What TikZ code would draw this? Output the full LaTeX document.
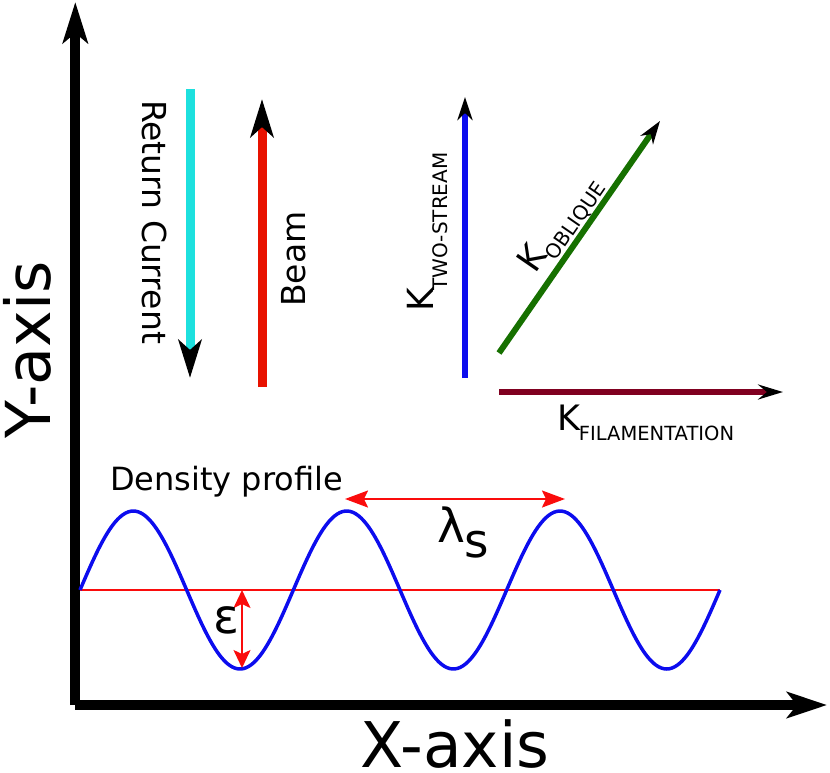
\documentclass[tikz,border=0pt]{standalone}
\usepackage{fontspec}
\setmainfont{DejaVu Sans}
\usetikzlibrary{arrows.meta}
\definecolor{retcyan}{RGB}{29,224,222}
\definecolor{beamred}{RGB}{232,18,0}
\definecolor{wblue}{RGB}{12,12,238}
\definecolor{kgreen}{RGB}{22,112,0}
\definecolor{kmaroon}{RGB}{128,0,32}
\definecolor{annred}{RGB}{250,12,12}
\newcommand{\fsz}[1]{\fontsize{#1}{#1}\selectfont}
\begin{document}
\begin{tikzpicture}[x=1pt,y=-1pt,
  lbl/.style={inner sep=0pt, outer sep=0pt, text=black},
  dimarrow/.style={annred, line width=2pt, {Stealth[length=#1pt,width=17pt,inset=4pt]}-{Stealth[length=#1pt,width=17pt,inset=4pt]}}
]
\useasboundingbox (0,0) rectangle (830,772);

% axes
\coordinate (ybot) at (75.3,705);
\coordinate (ytop) at (75.3,2);
\coordinate (xl) at (75,705);
\coordinate (xr) at (827,705);
\draw[line width=9.8pt, -{Stealth[length=41pt,width=25pt,inset=10pt]}] (ybot) -- (ytop);
\draw[line width=10pt, -{Stealth[length=40pt,width=26pt,inset=10pt]}] (xl) -- (xr);
\node[lbl, rotate=90, anchor=base] (ylabel) at (50,350) {\fsz{62}Y-axis};
\node[lbl, anchor=base] (xlabel) at (455,767) {\fsz{63}X-axis};

% return current and beam
\coordinate (rc1) at (190,89);
\coordinate (rc2) at (190,378);
\draw[retcyan, line width=9pt, -{Stealth[length=38pt,width=23pt,inset=10pt,black]}] (rc1) -- (rc2);
\node[lbl, rotate=-90, anchor=base] (rclabel) at (142,222) {\fsz{33}Return Current};
\coordinate (bm1) at (262,387);
\coordinate (bm2) at (262,99);
\draw[beamred, line width=9pt, -{Stealth[length=38pt,width=23pt,inset=10pt,black]}] (bm1) -- (bm2);
\node[lbl, rotate=90, anchor=base] (bmlabel) at (305,259) {\fsz{33}Beam};

% wave vectors
\coordinate (ts1) at (465,378);
\coordinate (ts2) at (465,97);
\draw[wblue, line width=6pt, -{Stealth[length=23pt,width=15pt,inset=7pt,black]}] (ts1) -- (ts2);
\node[lbl, rotate=90, anchor=base west] (tslabel) at (433,311) {\fsz{36}K\kern-3pt\raisebox{-14pt}{\fsz{20}TWO-STREAM}};

\coordinate (ob1) at (499,353);
\coordinate (ob2) at (660,121);
\draw[kgreen, line width=6pt, -{Stealth[length=23pt,width=15pt,inset=7pt,black]}] (ob1) -- (ob2);
\node[lbl, rotate=55.4, anchor=base west] (oblabel) at (535,274) {\fsz{35}K\kern-1pt\raisebox{-10pt}{\fsz{20}OBLIQUE}};

\coordinate (fi1) at (499,392);
\coordinate (fi2) at (783,392);
\draw[kmaroon, line width=5.5pt, -{Stealth[length=25pt,width=15pt,inset=9pt,black]}] (fi1) -- (fi2);
\node[lbl, anchor=base west] (filabel) at (557,430) {\fsz{35}K\kern-1pt\raisebox{-10pt}{\fsz{19.5}FILAMENTATION}};

% density profile
\node[lbl, anchor=base west] (dplabel) at (110,490) {\fsz{32}Density profile};
\coordinate (m1) at (80,590);
\coordinate (m2) at (720,590);
\draw[annred, line width=2pt] (m1) -- (m2);
\draw[wblue, line width=3.5pt, line join=round] plot[domain=80:720, samples=240, smooth] (\x, {590-79*sin(1.6875*(\x-80))});

% epsilon
\coordinate (e1) at (242,590);
\coordinate (e2) at (242,668);
\draw[dimarrow=18] (e1) -- (e2);
\node[lbl, anchor=base west] (elabel) at (213,633) {\fsz{48}ε};

% lambda
\coordinate (l1) at (345,499);
\coordinate (l2) at (565,499);
\draw[dimarrow=23] (l1) -- (l2);
\node[lbl, anchor=base west] (llabel) at (437,542) {\fsz{47}λ\raisebox{-15pt}{s}};
\end{tikzpicture}
\end{document}
